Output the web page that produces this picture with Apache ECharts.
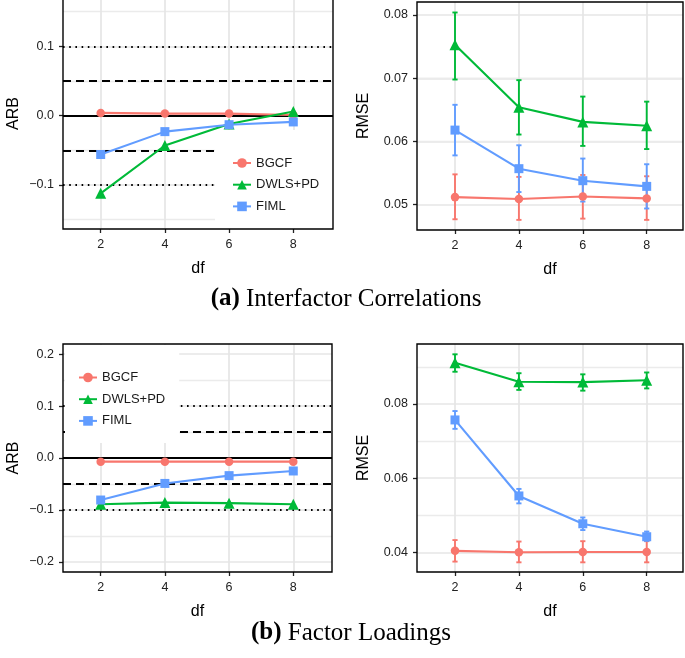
<!DOCTYPE html>
<html><head><meta charset="utf-8">
<script src="https://cdn.jsdelivr.net/npm/echarts@6/dist/echarts.min.js"></script>
<style>html,body{margin:0;padding:0;background:#fff}#c{width:685px;height:658px}</style>
</head><body><div id="c"></div>
<script>
// ---------- data ----------
const methods = ['BGCF', 'DWLS+PD', 'FIML'];
const dfValues = [2, 4, 6, 8];
const xTicks = [2, 4, 6, 8];

// (a) Interfactor correlations - ARB
const arbA_BGCF = [0.004, 0.003, 0.003, 0.001];
const arbA_DWLS = [-0.112, -0.043, -0.012, 0.006];
const arbA_FIML = [-0.056, -0.023, -0.013, -0.009];
// (a) RMSE with error bars
const rmseA_BGCF = [0.0512, 0.0509, 0.0513, 0.0510];
const rmseA_BGCF_lo = [0.0477, 0.0476, 0.0478, 0.0476];
const rmseA_BGCF_hi = [0.0548, 0.0544, 0.0547, 0.0545];
const rmseA_DWLS = [0.0753, 0.0654, 0.0631, 0.0625];
const rmseA_DWLS_lo = [0.0698, 0.0611, 0.0593, 0.0588];
const rmseA_DWLS_hi = [0.0804, 0.0697, 0.0671, 0.0663];
const rmseA_FIML = [0.0618, 0.0557, 0.0538, 0.0529];
const rmseA_FIML_lo = [0.0578, 0.0520, 0.0505, 0.0494];
const rmseA_FIML_hi = [0.0658, 0.0594, 0.0573, 0.0564];

// (b) Factor loadings - ARB
const arbB_BGCF = [-0.007, -0.007, -0.007, -0.007];
const arbB_DWLS = [-0.089, -0.086, -0.087, -0.089];
const arbB_FIML = [-0.081, -0.049, -0.034, -0.025];
// (b) RMSE with error bars
const rmseB_BGCF = [0.0404, 0.0400, 0.0401, 0.0401];
const rmseB_BGCF_lo = [0.0375, 0.0373, 0.0373, 0.0373];
const rmseB_BGCF_hi = [0.0433, 0.0429, 0.0430, 0.0430];
const rmseB_DWLS = [0.0911, 0.0860, 0.0859, 0.0864];
const rmseB_DWLS_lo = [0.0887, 0.0838, 0.0836, 0.0842];
const rmseB_DWLS_hi = [0.0934, 0.0883, 0.0880, 0.0885];
const rmseB_FIML = [0.0757, 0.0552, 0.0477, 0.0442];
const rmseB_FIML_lo = [0.0733, 0.0532, 0.0460, 0.0431];
const rmseB_FIML_hi = [0.0781, 0.0571, 0.0494, 0.0456];

// tick labels / gridlines
const arbA_yTicks = [-0.1, 0, 0.1];
const arbA_yMinor = [-0.15, -0.05, 0.05, 0.15];
const rmseA_yTicks = [0.05, 0.06, 0.07, 0.08];
const rmseA_yMinor = [0.055, 0.065, 0.075];
const arbB_yTicks = [-0.2, -0.1, 0, 0.1, 0.2];
const arbB_yMinor = [-0.15, -0.05, 0.05, 0.15];
const rmseB_yTicks = [0.04, 0.06, 0.08];
const rmseB_yMinor = [0.05, 0.07, 0.09];

// reference lines for ARB panels
const refDotted = [-0.1, 0.1];
const refDashed = [-0.05, 0.05];
const refSolid = [0];

const captionA = 'Interfactor Correlations';
const captionB = 'Factor Loadings';

// ---------- styling ----------
const colors = {'BGCF': '#F8766D', 'DWLS+PD': '#00BA38', 'FIML': '#619CFF'};
const symbols = {'BGCF': 'circle', 'DWLS+PD': 'triangle', 'FIML': 'rect'};
const symbolSizes = {'BGCF': 8.5, 'DWLS+PD': 11, 'FIML': 9};
const sans = "'Liberation Sans', Arial, Helvetica, sans-serif";
const serif = "'Liberation Serif', 'Times New Roman', serif";

const panels = [
  {grid: {left: 63, top: -2, width: 270, height: 231}, x: [0.826, 9.237], y: [-0.1635, 0.1698],
   yName: 'ARB', dec: 1, ticks: arbA_yTicks, minor: arbA_yMinor, ref: true,
   vals: {'BGCF': arbA_BGCF, 'DWLS+PD': arbA_DWLS, 'FIML': arbA_FIML}},
  {grid: {left: 417, top: 2, width: 266, height: 228}, x: [0.8106, 9.136], y: [0.0460, 0.08206],
   yName: 'RMSE', dec: 2, ticks: rmseA_yTicks, minor: rmseA_yMinor, ref: false,
   vals: {'BGCF': rmseA_BGCF, 'DWLS+PD': rmseA_DWLS, 'FIML': rmseA_FIML},
   lo: {'BGCF': rmseA_BGCF_lo, 'DWLS+PD': rmseA_DWLS_lo, 'FIML': rmseA_FIML_lo},
   hi: {'BGCF': rmseA_BGCF_hi, 'DWLS+PD': rmseA_DWLS_hi, 'FIML': rmseA_FIML_hi}},
  {grid: {left: 63, top: 344, width: 269, height: 228}, x: [0.826, 9.206], y: [-0.2197, 0.2197],
   yName: 'ARB', dec: 1, ticks: arbB_yTicks, minor: arbB_yMinor, ref: true,
   vals: {'BGCF': arbB_BGCF, 'DWLS+PD': arbB_DWLS, 'FIML': arbB_FIML}},
  {grid: {left: 417, top: 344, width: 266, height: 228}, x: [0.8106, 9.136], y: [0.03469, 0.09618],
   yName: 'RMSE', dec: 2, ticks: rmseB_yTicks, minor: rmseB_yMinor, ref: false,
   vals: {'BGCF': rmseB_BGCF, 'DWLS+PD': rmseB_DWLS, 'FIML': rmseB_FIML},
   lo: {'BGCF': rmseB_BGCF_lo, 'DWLS+PD': rmseB_DWLS_lo, 'FIML': rmseB_FIML_lo},
   hi: {'BGCF': rmseB_BGCF_hi, 'DWLS+PD': rmseB_DWLS_hi, 'FIML': rmseB_FIML_hi}}
];

const grids = [], xAxes = [], yAxes = [], series = [];

function errRender(color) {
  return function (params, api) {
    const x = api.value(0), lo = api.value(1), hi = api.value(2);
    const a = api.coord([x, lo]), b = api.coord([x, hi]);
    const cw = 2.6;
    const st = {stroke: color, lineWidth: 1.9, fill: null};
    return {type: 'group', children: [
      {type: 'line', shape: {x1: a[0], y1: a[1], x2: b[0], y2: b[1]}, style: st},
      {type: 'line', shape: {x1: a[0] - cw, y1: a[1], x2: a[0] + cw, y2: a[1]}, style: st},
      {type: 'line', shape: {x1: b[0] - cw, y1: b[1], x2: b[0] + cw, y2: b[1]}, style: st}
    ]};
  };
}

panels.forEach((p, i) => {
  grids.push(Object.assign({show: true, borderColor: '#000', borderWidth: 1.4,
    backgroundColor: 'transparent', z: 12, containLabel: false, outerBoundsMode: 'none'}, p.grid));
  xAxes.push({
    type: 'value', gridIndex: i, min: p.x[0], max: p.x[1],
    name: 'df', nameLocation: 'middle', nameGap: 32,
    nameTextStyle: {fontFamily: sans, fontSize: 16, color: '#000'},
    axisLine: {show: false, onZero: false},
    axisTick: {show: true, length: 4, customValues: xTicks, lineStyle: {color: '#222', width: 1.3}},
    axisLabel: {customValues: xTicks, margin: 9, fontFamily: sans, fontSize: 12.5, color: '#222',
      formatter: v => String(v)},
    splitLine: {show: false}
  });
  yAxes.push({
    type: 'value', gridIndex: i, min: p.y[0], max: p.y[1],
    name: p.yName, nameLocation: 'middle', nameGap: p.dec === 1 ? 41 : 45,
    nameTextStyle: {fontFamily: sans, fontSize: 16, color: '#000'},
    axisLine: {show: false, onZero: false},
    axisTick: {show: true, length: 4, customValues: p.ticks, lineStyle: {color: '#222', width: 1.3}},
    axisLabel: {customValues: p.ticks, margin: 9, fontFamily: sans, fontSize: 12.5, color: '#222',
      formatter: v => (v < -1e-9 ? '\u2212' : '') + Math.abs(v).toFixed(p.dec)},
    splitLine: {show: false}
  });
  // gridlines
  const gl = [];
  p.ticks.forEach(v => gl.push({yAxis: v, lineStyle: {color: '#E6E6E6', width: 1.7, type: 'solid'}}));
  p.minor.forEach(v => gl.push({yAxis: v, lineStyle: {color: '#EBEBEB', width: 1.4, type: 'solid'}}));
  xTicks.forEach(v => gl.push({xAxis: v, lineStyle: {color: '#E6E6E6', width: 1.7, type: 'solid'}}));
  series.push({type: 'line', name: 'grid' + i, xAxisIndex: i, yAxisIndex: i, data: [], silent: true,
    markLine: {z: 1, silent: true, symbol: 'none', animation: false, label: {show: false},
      emphasis: {disabled: true}, data: gl}});
  if (p.ref) {
    const rl = [];
    refDotted.forEach(v => rl.push({yAxis: v, lineStyle: {color: '#000', width: 2, type: [1.6, 4.6], cap: 'butt'}}));
    refDashed.forEach(v => rl.push({yAxis: v, lineStyle: {color: '#000', width: 2, type: [8, 5]}}));
    refSolid.forEach(v => rl.push({yAxis: v, lineStyle: {color: '#000', width: 2, type: 'solid'}}));
    series.push({type: 'line', name: 'ref' + i, xAxisIndex: i, yAxisIndex: i, data: [], silent: true,
      markLine: {z: 2, silent: true, symbol: 'none', animation: false, label: {show: false},
        emphasis: {disabled: true}, data: rl}});
  }
  methods.forEach(m => {
    if (p.lo) {
      series.push({type: 'custom', name: m + ' error ' + i, xAxisIndex: i, yAxisIndex: i, z: 3,
        silent: true, renderItem: errRender(colors[m]), encode: {x: 0, y: [1, 2]},
        data: dfValues.map((d, j) => [d, p.lo[m][j], p.hi[m][j]])});
    }
    series.push({type: 'line', name: m, xAxisIndex: i, yAxisIndex: i, z: 4,
      data: dfValues.map((d, j) => [d, p.vals[m][j]]),
      symbol: symbols[m], symbolSize: symbolSizes[m], showSymbol: true,
      lineStyle: {color: colors[m], width: 2.1},
      itemStyle: {color: colors[m], borderWidth: 0},
      emphasis: {disabled: true}, silent: true});
  });
});

const legendBase = {
  data: methods, orient: 'vertical', selectedMode: false, backgroundColor: '#fff', z: 10,
  itemWidth: 18, itemHeight: 12, itemGap: 7.7,
  textStyle: {fontFamily: sans, fontSize: 13, color: '#1a1a1a', lineHeight: 14}
};

const option = {
  animation: false,
  backgroundColor: '#fff',
  grid: grids, xAxis: xAxes, yAxis: yAxes, series: series,
  legend: [
    Object.assign({}, legendBase, {left: 215, top: 130, padding: [26, 20, 15, 17]}),
    Object.assign({}, legendBase, {left: 65, top: 345, padding: [25.5, 14, 15, 13]})
  ],
  graphic: [
    {type: 'text', x: 346, y: 299, z: 20, style: {
      text: '{b|(a)} ' + captionA, align: 'center', verticalAlign: 'middle',
      fontFamily: serif, fontSize: 25, fill: '#000',
      rich: {b: {fontFamily: serif, fontSize: 25, fontWeight: 'bold', fill: '#000'}}}},
    {type: 'text', x: 351, y: 633, z: 20, style: {
      text: '{b|(b)} ' + captionB, align: 'center', verticalAlign: 'middle',
      fontFamily: serif, fontSize: 25, fill: '#000',
      rich: {b: {fontFamily: serif, fontSize: 25, fontWeight: 'bold', fill: '#000'}}}}
  ]
};

const chart = echarts.init(document.getElementById('c'), null, {renderer: 'canvas'});
chart.setOption(option);
</script></body></html>
